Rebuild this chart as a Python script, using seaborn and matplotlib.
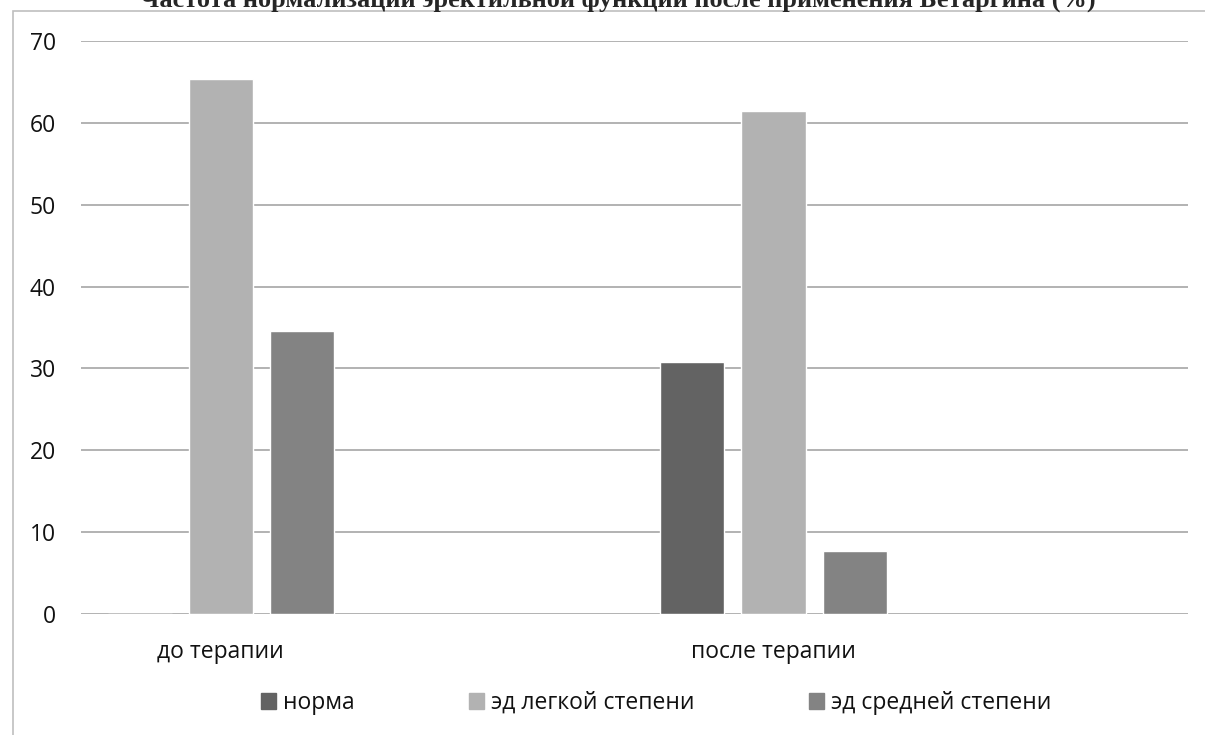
import matplotlib
matplotlib.use("Agg")
import matplotlib.pyplot as plt
import matplotlib.patches as mpatches
import seaborn as sns
import pandas as pd

# data (%)
groups = ["до терапии", "после терапии"]
series = ["норма", "эд легкой степени", "эд средней степени"]
norma = [0.0, 30.8]
legkaya = [65.4, 61.5]
srednyaya = [34.6, 7.7]
colors = ["#636363", "#b2b2b2", "#838383"]

title = "Частота нормализации эректильной функции после применения Бетаргина (%)"

rows = []
for i, g in enumerate(groups):
    rows.append({"group": g, "series": series[0], "value": norma[i]})
    rows.append({"group": g, "series": series[1], "value": legkaya[i]})
    rows.append({"group": g, "series": series[2], "value": srednyaya[i]})
df = pd.DataFrame(rows)

sns.set_style("white")
plt.rcParams["font.family"] = ["Open Sans", "DejaVu Sans"]

fig = plt.figure(figsize=(12.05, 7.35), dpi=100)
ax = fig.add_axes([81 / 1205, 1 - 614 / 735, 1107 / 1205, 573 / 735])

sns.barplot(data=df, x="group", y="value", hue="series", order=groups,
            hue_order=series, palette=colors, width=0.44, gap=0.21,
            saturation=1, ax=ax, legend=True)

ax.set_xlim(-0.253, 1.75)
ax.set_ylim(0, 70)
ax.set_yticks(range(0, 71, 10))
ax.yaxis.grid(True, color="#a6a6a6", linewidth=1.2)
ax.set_axisbelow(True)
for s in ax.spines.values():
    s.set_visible(False)
ax.set_xlabel("")
ax.set_ylabel("")
ax.tick_params(axis="y", length=0, pad=18, labelsize=16.5, labelcolor="#111111")
ax.tick_params(axis="x", length=0, pad=19, labelsize=16.5, labelcolor="#111111")

handles = [mpatches.Patch(color=c, label=s) for c, s in zip(colors, series)]
ax.legend(handles=handles, loc="center", ncol=3, frameon=False,
          bbox_to_anchor=(656 / 1205, 1 - 703 / 735), bbox_transform=fig.transFigure,
          fontsize=16.5, handlelength=0.65, handleheight=0.65, handletextpad=0.3,
          columnspacing=5.0, labelcolor="#111111")

# outer chart border (partly outside the picture)
fig.patches.append(mpatches.Rectangle((12.5 / 1205, -0.1), 1.2, 1 - 11 / 735 + 0.1,
                                      transform=fig.transFigure, fill=False,
                                      edgecolor="#bfbfbf", linewidth=1.2))

fig.text(618 / 1205, 1 - 7 / 735, title, ha="center", va="baseline",
         fontsize=18.9, fontweight="bold", family=["Liberation Serif", "DejaVu Serif"])

fig.savefig("out.png", dpi=100)
